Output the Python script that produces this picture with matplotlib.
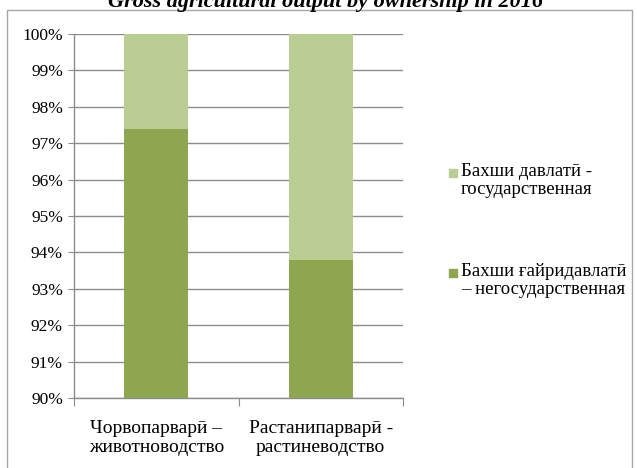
import matplotlib
matplotlib.use("Agg")
import matplotlib.pyplot as plt
from matplotlib.patches import Rectangle

plt.rcParams['font.family'] = ['Liberation Serif', 'DejaVu Serif']

title = "Gross agricultural output by ownership in 2016"
categories = ["Чорвопарварӣ –\nживотноводство", "Растанипарварӣ -\nрастиневодство"]
series_names = ["Бахши давлатӣ -\nгосударственная", "Бахши ғайридавлатӣ\n– негосударственная"]
nongov = [97.4, 93.8]   # Бахши ғайридавлатӣ (%)
gov = [2.6, 6.2]        # Бахши давлатӣ (%)
yticks = [90, 91, 92, 93, 94, 95, 96, 97, 98, 99, 100]

dark = '#8DA64F'
light = '#BACE94'
grid_c = '#8C8C8C'

W, H = 637, 468
fig = plt.figure(figsize=(W / 100, H / 100), dpi=100)
ax = fig.add_axes([74 / W, 1 - 398 / H, (403 - 74) / W, (398 - 34) / H])

x = list(range(len(categories)))
ax.bar(x, nongov, width=0.39, color=dark, zorder=3)
ax.bar(x, gov, bottom=nongov, width=0.39, color=light, zorder=3)

ax.set_xlim(-0.5, len(categories) - 0.5)
ax.set_ylim(90, 100)
ax.set_yticks(yticks)
ax.set_yticklabels([f"{v}%" for v in yticks], fontsize=12.5)
ax.yaxis.grid(True, color=grid_c, lw=1, zorder=0)
ax.tick_params(axis='y', length=4, color=grid_c, pad=4)

ax.set_xticks([-0.5 + i for i in range(len(categories) + 1)])
ax.set_xticklabels([])
ax.tick_params(axis='x', which='major', length=6, color=grid_c)
ax.set_xticks(x, minor=True)
ax.set_xticklabels(categories, minor=True, fontsize=14, linespacing=1.15)
ax.tick_params(axis='x', which='minor', length=0, pad=16)

for s in ['top', 'right']:
    ax.spines[s].set_visible(False)
for s in ['left', 'bottom']:
    ax.spines[s].set_color(grid_c)
    ax.spines[s].set_linewidth(1)

# legend (manual)
leg_items = [(series_names[0], light, 173), (series_names[1], dark, 273)]
for name, col, ypx in leg_items:
    fig.add_artist(Rectangle((449 / W, 1 - (ypx + 4) / H), 8 / W, 8 / H,
                             transform=fig.transFigure, color=col))
    fig.text(461 / W, 1 - (ypx - 10) / H, name, ha='left', va='top', fontsize=13.5,
             linespacing=1.1)

fig.text(326 / W, 1 - 7 / H, title, ha='center', va='baseline', fontsize=16,
         weight='bold', style='italic')

fig.add_artist(Rectangle((7 / W, -0.01), (632 - 7) / W, (468 - 10) / H + 0.01,
                         transform=fig.transFigure, fill=False, edgecolor='#A6A6A6', lw=1))

fig.savefig("out.png", dpi=100)
